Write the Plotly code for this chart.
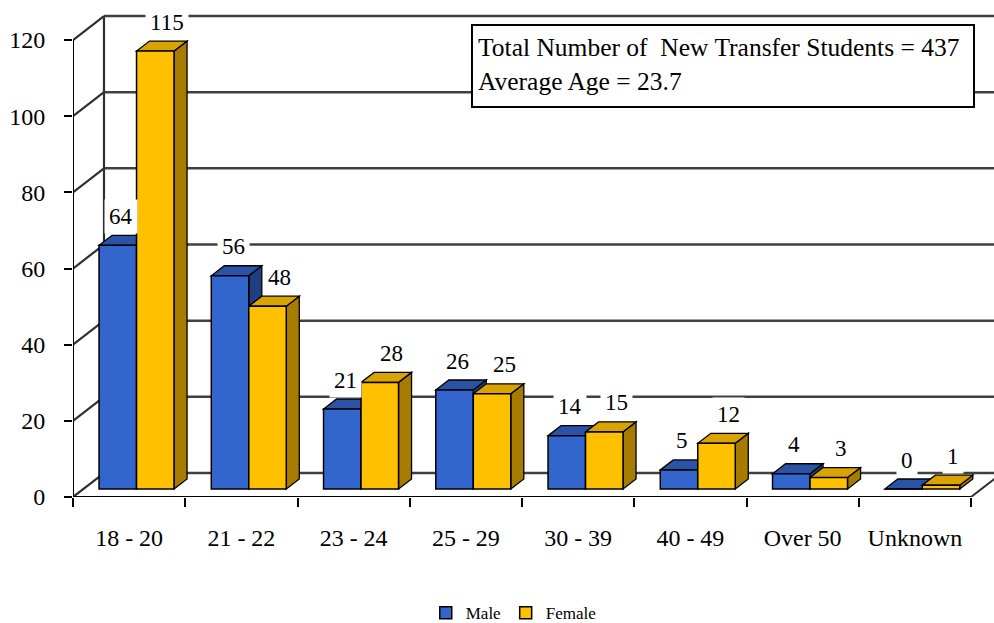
import numpy as np
import plotly.graph_objects as go

categories = ["18 - 20", "21 - 22", "23 - 24", "25 - 29", "30 - 39", "40 - 49", "Over 50", "Unknown"]
male = [64, 56, 21, 26, 14, 5, 4, 0]
female = [115, 48, 28, 25, 15, 12, 3, 1]
y_ticks = [0, 20, 40, 60, 80, 100, 120]
info_lines = ["Total Number of\u00a0 New Transfer Students = 437", "Average Age = 23.7"]

FONT = "Liberation Serif"
# pseudo-3D geometry (data units)
DX, DY = 0.276, 6.3      # wall depth
FY = 2.1                 # bar front base
BX, BY = 0.116, 2.63     # bar depth
W = 0.334
OFF_M, OFF_F = -0.101, 0.233

idx = np.arange(len(categories))
xm = idx + OFF_M
xf = idx + OFF_F

COL_M = ("#3366CC", "#2A52A6", "#1F3F80")
COL_F = ("#FFC000", "#D9A300", "#A67C00")

fig = go.Figure()
fig.add_trace(go.Bar(x=xm, y=male, base=FY, width=W, name="Male",
                     marker=dict(color=COL_M[0], line=dict(color="black", width=1.5))))
fig.add_trace(go.Bar(x=xf, y=female, base=FY, width=W, name="Female",
                     marker=dict(color=COL_F[0], line=dict(color="black", width=1.5))))

shapes = []
# walls / gridlines
xr_end = len(categories) - 0.5
for v in y_ticks:
    shapes.append(dict(type="line", xref="x", yref="y", x0=-0.5, y0=v, x1=-0.5 + DX, y1=v + DY,
                       line=dict(color="#303030", width=2.2), layer="below"))
    shapes.append(dict(type="line", xref="x", yref="y", x0=-0.5 + DX, y0=v + DY, x1=xr_end + DX, y1=v + DY,
                       line=dict(color="#404040", width=2.5), layer="below"))
shapes.append(dict(type="line", xref="x", yref="y", x0=-0.5 + DX, y0=DY, x1=-0.5 + DX, y1=y_ticks[-1] + DY,
                   line=dict(color="#303030", width=2.2), layer="below"))
shapes.append(dict(type="line", xref="x", yref="y", x0=xr_end, y0=0, x1=xr_end + DX, y1=DY,
                   line=dict(color="#303030", width=2), layer="below"))
# front axes
shapes.append(dict(type="line", xref="x", yref="y", x0=-0.5, y0=0, x1=-0.5, y1=y_ticks[-1],
                   line=dict(color="black", width=2), layer="above"))
shapes.append(dict(type="line", xref="x", yref="y", x0=-0.5, y0=0, x1=xr_end, y1=0,
                   line=dict(color="black", width=2), layer="above"))


def faces(c, v, cols):
    xl, xr = c - W / 2, c + W / 2
    t, b = FY + v, FY
    top = f"M {xl},{t} L {xr},{t} L {xr+BX},{t+BY} L {xl+BX},{t+BY} Z"
    side = f"M {xr},{b} L {xr+BX},{b+BY} L {xr+BX},{t+BY} L {xr},{t} Z"
    return [
        dict(type="path", xref="x", yref="y", path=side, fillcolor=cols[2],
             line=dict(color="black", width=1.3), layer="between"),
        dict(type="path", xref="x", yref="y", path=top, fillcolor=cols[1],
             line=dict(color="black", width=1.3), layer="between"),
    ]


for i in idx:
    shapes += faces(xm[i], male[i], COL_M)
    shapes += faces(xf[i], female[i], COL_F)

# info box
shapes.append(dict(type="rect", xref="paper", yref="paper", x0=0.4332, x1=0.9783, y0=0.7927, y1=0.9593,
                   fillcolor="white", line=dict(color="black", width=2), layer="above"))

LBL = dict(family=FONT, size=23, color="black")
annotations = []
for i in idx:
    annotations.append(dict(x=xm[i], y=FY + male[i], xref="x", yref="y", text=str(male[i]),
                            showarrow=False, xshift=3, yshift=29, yanchor="middle",
                            bgcolor="white", borderpad=4, font=LBL))
    annotations.append(dict(x=xf[i], y=FY + female[i], xref="x", yref="y", text=str(female[i]),
                            showarrow=False, xshift=12, yshift=29, yanchor="middle",
                            bgcolor="white", borderpad=4, font=LBL))
for k, (line, yy) in enumerate(zip(info_lines, [0.9146, 0.8455])):
    annotations.append(dict(x=0.4375, y=yy, xref="paper", yref="paper", text=line, showarrow=False,
                            xanchor="left", yanchor="middle", font=dict(family=FONT, size=25.5, color="black")))

fig.update_layout(
    width=994, height=623,
    margin=dict(l=73, r=0, t=5, b=126, autoexpand=False),
    paper_bgcolor="white", plot_bgcolor="white",
    barmode="overlay",
    showlegend=True,
    legend=dict(orientation="h", xref="paper", yref="paper", x=0.478, y=-0.236,
                xanchor="center", yanchor="middle", font=dict(family=FONT, size=17, color="black"),
                itemwidth=30, tracegroupgap=0),
    xaxis=dict(range=[-0.5, -0.5 + 921 / 112.25], tickvals=idx, ticktext=categories, ticks="",
               showgrid=False, zeroline=False, showline=False, ticklabelstandoff=24, automargin=False,
               tickfont=dict(family=FONT, size=24, color="black"),
               minor=dict(tickvals=list(np.arange(-0.5, len(categories), 1.0)), ticks="outside",
                          ticklen=9, tickwidth=2, tickcolor="black", showgrid=False)),
    yaxis=dict(range=[0, 492 / 3.808], tickvals=y_ticks, ticks="outside", ticklen=8, tickwidth=2,
               tickcolor="black", showgrid=False, zeroline=False, showline=False, ticklabelstandoff=14,
               automargin=False, tickfont=dict(family=FONT, size=24, color="black")),
    shapes=shapes, annotations=annotations,
)

fig.write_html("out.html", config={"displayModeBar": False},
               post_script="document.body.style.margin='0';document.body.style.overflow='hidden';")
